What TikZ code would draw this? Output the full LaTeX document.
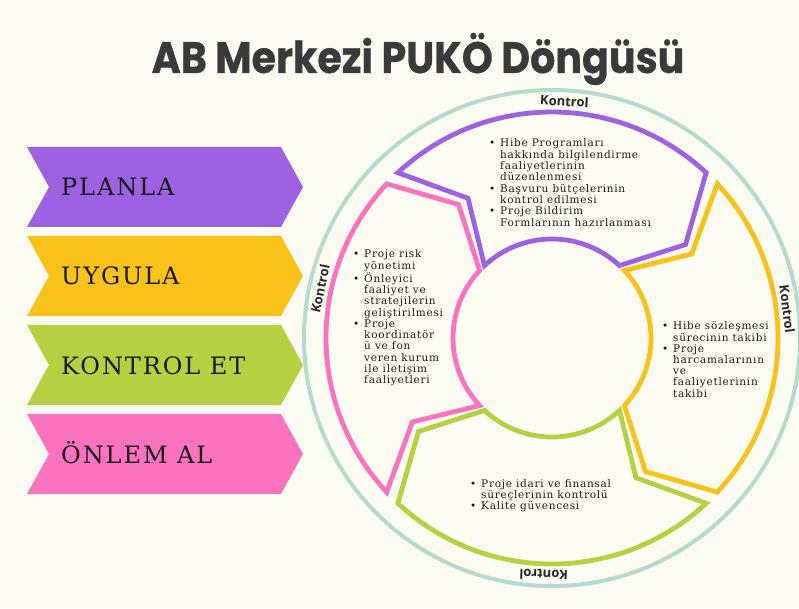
\documentclass[tikz,border=0pt]{standalone}
\usepackage{fontspec}
\setmainfont{DejaVu Serif}
\newfontfamily\titlefont{Poppins}[FakeStretch=0.9, BoldFeatures={FakeBold=0.6}]
\newfontfamily\ctlfont{Open Sans}
\newfontfamily\chevfont{DejaVu Serif}[LetterSpace=8]
\newfontfamily\itemfont{DejaVu Serif}[LetterSpace=7]
\definecolor{bgcream}{HTML}{FCFCF3}
\definecolor{plpurple}{HTML}{9E61E2}
\definecolor{plyellow}{HTML}{F9C21B}
\definecolor{plgreen}{HTML}{B5D142}
\definecolor{plpink}{HTML}{FB72BF}
\definecolor{ringteal}{HTML}{B5DBCD}
\definecolor{titlegray}{HTML}{3A3A3A}
\newcommand{\segout}{226}
\newcommand{\segin}{99}
\newcommand{\segmid}{163}
\newcommand{\blist}[1]{\begin{tabular}[t]{@{}p{11pt}@{}l@{}}#1\end{tabular}}
\tikzset{
  chevron/.style   = {fill=#1, draw=none},
  chevlabel/.style = {anchor=base west, inner sep=0pt,
                      font=\chevfont\fontsize{24}{24}\selectfont, text=black!90},
  segment/.style   = {draw=#1, line width=4.8pt, line join=miter},
  itemlist/.style  = {anchor=base west, inner sep=0pt, text=black!90,
                      font=\itemfont\fontsize{10.5}{11}\selectfont},
  ctllabel/.style  = {inner sep=0pt, text=black!85,
                      font=\ctlfont\bfseries\fontsize{13}{13}\selectfont},
}
\begin{document}
\begin{tikzpicture}[x=1pt, y=1pt]
	\fill[bgcream] (0,0) rectangle (799,608);
	\useasboundingbox (0,0) rectangle (799,608);
	% title
	\node[anchor=base, inner sep=0pt, text=titlegray,
	      font=\titlefont\bfseries\fontsize{44}{44}\selectfont]
	      (title) at (418,535) {AB Merkezi PUKÖ Döngüsü};
	% left chevrons
	\foreach \yt/\col/\lab/\nm in {461/plpurple/PLANLA/planla,
	                               372/plyellow/UYGULA/uygula,
	                               283/plgreen/KONTROL ET/kontrolet,
	                               194/plpink/ÖNLEM AL/onlemal}
	{
		\fill[chevron=\col] (27,\yt) -- (281,\yt) -- (303,\yt-40)
			-- (281,\yt-80) -- (27,\yt-80) -- (49,\yt-40) -- cycle;
		\node[chevlabel] (\nm) at (61,\yt-49) {\lab};
	}
	% cycle
	\coordinate (ctr) at (552,270);
	\begin{scope}[shift={(ctr)}]
		\draw[ringteal, line width=4pt] (0,0) circle[radius=248];
		\foreach \c/\col in {90/plpurple, 0/plyellow, -90/plgreen, 180/plpink}
			\draw[segment=\col] ({\c+43}:\segout)
				arc[start angle=\c+43, end angle=\c-43, radius=\segout]
				-- ({\c-55}:\segmid) -- ({\c-43}:\segin)
				arc[start angle=\c-43, end angle=\c+43, radius=\segin]
				-- ({\c+31}:\segmid) -- cycle;
		\foreach \a/\nm in {87/top, 7/right, -92/bottom, 168/left}
			\node[ctllabel, rotate=\a-90] (ctl\nm) at (\a:237) {Kontrol};
	\end{scope}
	% activities
	\node[itemlist] (plan) at (489,461) {\blist{%
		\textbullet & Hibe Programları\\
		            & hakkında bilgilendirme\\
		            & faaliyetlerinin\\
		            & düzenlenmesi\\
		\textbullet & Başvuru bütçelerinin\\
		            & kontrol edilmesi\\
		\textbullet & Proje Bildirim\\
		            & Formlarının hazırlanması}};
	\node[itemlist] (do) at (662,278) {\blist{%
		\textbullet & Hibe sözleşmesi\\
		            & sürecinin takibi\\
		\textbullet & Proje\\
		            & harcamalarının\\
		            & ve\\
		            & faaliyetlerinin\\
		            & takibi}};
	\node[itemlist] (check) at (470,121) {\blist{%
		\textbullet & Proje idari ve finansal\\
		            & süreçlerinin kontrolü\\
		\textbullet & Kalite güvencesi}};
	\node[itemlist] (act) at (353,350) {\blist{%
		\textbullet & Proje risk\\
		            & yönetimi\\
		\textbullet & Önleyici\\
		            & faaliyet ve\\
		            & stratejilerin\\
		            & geliştirilmesi\\
		\textbullet & Proje\\
		            & koordinatör\\
		            & ü ve fon\\
		            & veren kurum\\
		            & ile iletişim\\
		            & faaliyetleri}};
\end{tikzpicture}
\end{document}
